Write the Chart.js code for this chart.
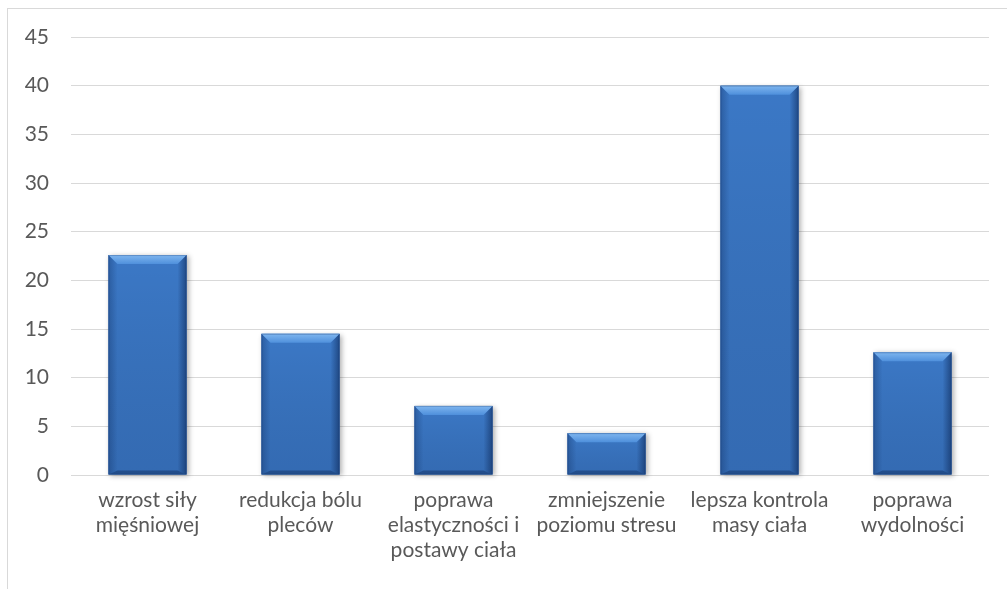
<!DOCTYPE html>
<html>
<head>
<meta charset="utf-8">
<script src="https://cdn.jsdelivr.net/npm/chart.js@4.4.1/dist/chart.umd.min.js"></script>
<style>
  html, body { margin: 0; padding: 0; background: #ffffff; }
  #wrap { position: relative; width: 1007px; height: 589px; overflow: hidden; }
  canvas { position: absolute; left: 0; top: 0; }
</style>
</head>
<body>
<div id="wrap"><canvas id="c" width="1007" height="589"></canvas></div>
<script>
// Benefits reported by respondents (%)
const categories = [
  ["wzrost siły", "mięśniowej"],
  ["redukcja bólu", "pleców"],
  ["poprawa", "elastyczności i", "postawy ciała"],
  ["zmniejszenie", "poziomu stresu"],
  ["lepsza kontrola", "masy ciała"],
  ["poprawa", "wydolności"]
];
const values = [22.6, 14.5, 7.1, 4.3, 40.0, 12.6];
const yMin = 0;
const yMax = 45;
const yStep = 5;

const textColor = '#595959';
const gridColor = '#d9d9d9';

// Outer chart frame
const framePlugin = {
  id: 'frame',
  beforeDraw(chart) {
    const ctx = chart.ctx;
    ctx.save();
    ctx.fillStyle = '#ffffff';
    ctx.fillRect(0, 0, chart.width, chart.height);
    ctx.strokeStyle = gridColor;
    ctx.lineWidth = 1;
    ctx.strokeRect(7.5, 8.5, chart.width + 20, chart.height + 20);
    ctx.restore();
  }
};

function barRects(chart) {
  const meta = chart.getDatasetMeta(0);
  return meta.data.map(el => {
    const p = el.getProps(['x', 'y', 'base', 'width'], true);
    return { left: p.x - p.width / 2, right: p.x + p.width / 2, top: Math.min(p.y, p.base), bottom: Math.max(p.y, p.base) };
  });
}

// Soft drop shadow under the bars and bevelled edges on top of them
const bevelPlugin = {
  id: 'bevel',
  beforeDatasetsDraw(chart) {
    const ctx = chart.ctx;
    ctx.save();
    barRects(chart).forEach(r => {
      ctx.shadowColor = 'rgba(0,0,0,0.3)';
      ctx.shadowBlur = 5;
      ctx.shadowOffsetX = 2;
      ctx.shadowOffsetY = 1;
      ctx.fillStyle = '#2f64a8';
      ctx.fillRect(r.left, r.top, r.right - r.left, r.bottom - r.top);
    });
    ctx.restore();
  },
  afterDatasetsDraw(chart) {
    const ctx = chart.ctx;
    ctx.save();
    barRects(chart).forEach(r => {
      const w = r.right - r.left, h = r.bottom - r.top;
      const b = Math.min(9, h / 2, w / 2);
      const bb = Math.min(4, h / 4);

      // vertical darkening toward the base
      let g = ctx.createLinearGradient(0, r.top, 0, r.bottom);
      g.addColorStop(0, 'rgba(0,0,0,0)');
      g.addColorStop(1, 'rgba(10,30,70,0.15)');
      ctx.fillStyle = g;
      ctx.fillRect(r.left, r.top, w, h);

      // left bevel
      g = ctx.createLinearGradient(r.left, 0, r.left + b, 0);
      g.addColorStop(0, 'rgba(15,45,95,0.35)');
      g.addColorStop(1, 'rgba(15,45,95,0.0)');
      ctx.fillStyle = g;
      ctx.beginPath();
      ctx.moveTo(r.left, r.top);
      ctx.lineTo(r.left + b, r.top + b);
      ctx.lineTo(r.left + b, r.bottom - bb);
      ctx.lineTo(r.left, r.bottom);
      ctx.closePath();
      ctx.fill();

      // right bevel
      g = ctx.createLinearGradient(r.right - b, 0, r.right, 0);
      g.addColorStop(0, 'rgba(10,35,80,0.0)');
      g.addColorStop(1, 'rgba(10,35,80,0.55)');
      ctx.fillStyle = g;
      ctx.beginPath();
      ctx.moveTo(r.right, r.top);
      ctx.lineTo(r.right - b, r.top + b);
      ctx.lineTo(r.right - b, r.bottom - bb);
      ctx.lineTo(r.right, r.bottom);
      ctx.closePath();
      ctx.fill();

      // bottom bevel
      ctx.fillStyle = 'rgba(10,35,80,0.4)';
      ctx.beginPath();
      ctx.moveTo(r.left, r.bottom);
      ctx.lineTo(r.left + b, r.bottom - bb);
      ctx.lineTo(r.right - b, r.bottom - bb);
      ctx.lineTo(r.right, r.bottom);
      ctx.closePath();
      ctx.fill();

      // top bevel (highlight)
      g = ctx.createLinearGradient(0, r.top, 0, r.top + b);
      g.addColorStop(0, '#7fb6ef');
      g.addColorStop(1, '#4f90dc');
      ctx.fillStyle = g;
      ctx.beginPath();
      ctx.moveTo(r.left, r.top);
      ctx.lineTo(r.right, r.top);
      ctx.lineTo(r.right - b, r.top + b);
      ctx.lineTo(r.left + b, r.top + b);
      ctx.closePath();
      ctx.fill();

      // thin outline
      ctx.strokeStyle = 'rgba(25,60,115,0.3)';
      ctx.lineWidth = 1;
      ctx.strokeRect(r.left + 0.5, r.top + 0.5, w - 1, h - 1);
    });
    ctx.restore();
  }
};

function bodyFill(context) {
  const chart = context.chart;
  const el = context.element;
  if (!el || !chart.chartArea) return '#3b78c6';
  const { x, width } = el.getProps(['x', 'width'], true);
  if (!isFinite(x) || !isFinite(width)) return '#3b78c6';
  const g = chart.ctx.createLinearGradient(x - width / 2, 0, x + width / 2, 0);
  g.addColorStop(0, '#3674c2');
  g.addColorStop(0.5, '#3f80cf');
  g.addColorStop(1, '#3672be');
  return g;
}

new Chart(document.getElementById('c'), {
  type: 'bar',
  data: {
    labels: categories,
    datasets: [{
      data: values,
      backgroundColor: bodyFill,
      borderWidth: 0,
      categoryPercentage: 1.0,
      barPercentage: 0.51
    }]
  },
  options: {
    responsive: false,
    animation: false,
    events: [],
    layout: { padding: { top: 37, right: 18, bottom: 0, left: 0 } },
    plugins: {
      legend: { display: false },
      tooltip: { enabled: false },
      title: { display: false }
    },
    scales: {
      x: {
        grid: { display: false, drawTicks: false },
        border: { display: false },
        ticks: {
          color: textColor,
          font: { family: 'Lato', size: 21, lineHeight: '25px' },
          maxRotation: 0,
          minRotation: 0,
          autoSkip: false,
          padding: 13
        },
        afterFit(scale) { scale.height = 114; }
      },
      y: {
        min: yMin,
        max: yMax,
        grid: { color: gridColor, lineWidth: 1, drawTicks: false },
        border: { display: false },
        ticks: {
          stepSize: yStep,
          color: textColor,
          font: { family: 'Lato', size: 21 },
          padding: 22
        },
        afterFit(scale) { scale.width = 71; }
      }
    }
  },
  plugins: [framePlugin, bevelPlugin]
});
</script>
</body>
</html>
